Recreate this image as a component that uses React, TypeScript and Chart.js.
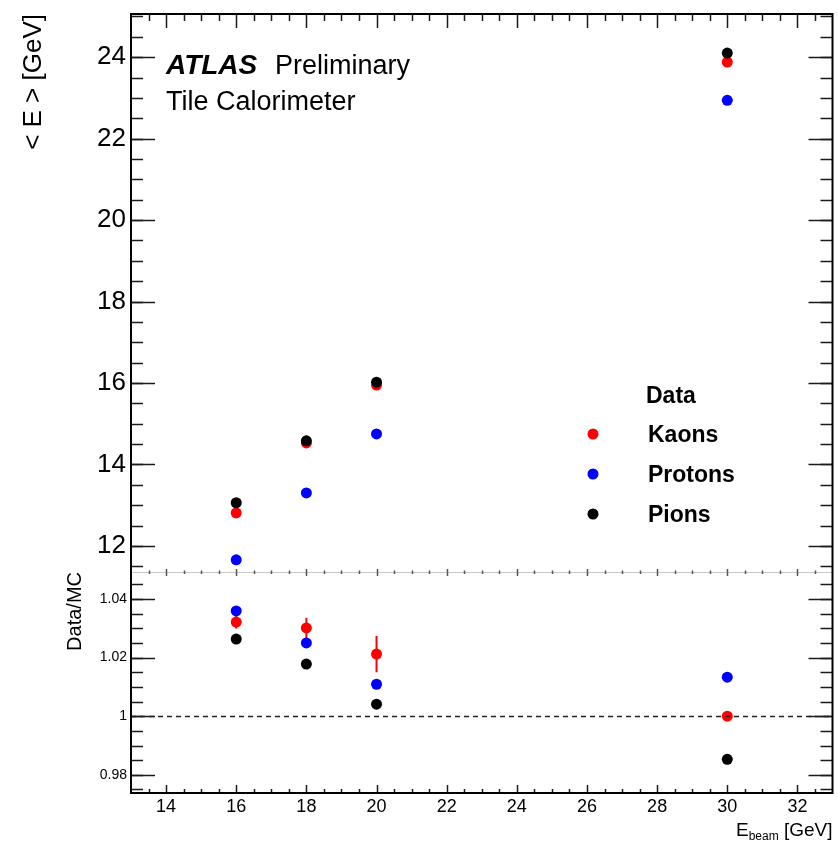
import React, { useEffect, useRef } from 'react';
import { Chart, registerables } from 'chart.js';

Chart.register(...registerables);

// ---------- data ----------
const BEAM_ENERGIES = [16, 18, 20, 30];

const KAONS_E = [12.81, 14.53, 15.95, 23.88];
const PROTONS_E = [11.66, 13.3, 14.75, 22.94];
const PIONS_E = [13.06, 14.58, 16.02, 24.1];
const KAONS_E_ERR = [0.03, 0.04, 0.05, 0.05];
const PROTONS_E_ERR = [0.02, 0.02, 0.03, 0.03];
const PIONS_E_ERR = [0.02, 0.02, 0.02, 0.03];

const KAONS_RATIO = [1.0321, 1.0301, 1.0212, 1.0];
const PROTONS_RATIO = [1.0359, 1.025, 1.0109, 1.0133];
const PIONS_RATIO = [1.0263, 1.0178, 1.0041, 0.9853];
const KAONS_RATIO_ERR = [0.0022, 0.0035, 0.0062, 0.001];
const PROTONS_RATIO_ERR = [0.001, 0.001, 0.001, 0.001];
const PIONS_RATIO_ERR = [0.001, 0.001, 0.001, 0.001];

const X_TICKS = [14, 16, 18, 20, 22, 24, 26, 28, 30, 32];
const E_TICKS = [12, 14, 16, 18, 20, 22, 24];
const RATIO_TICKS = [0.98, 1, 1.02, 1.04];
const RATIO_TICK_LABELS = ['0.98', '1', '1.02', '1.04'];

const SERIES = [
  { label: 'Kaons', color: '#ff0000' },
  { label: 'Protons', color: '#0000ff' },
  { label: 'Pions', color: '#000000' },
];

const FONT = "'Liberation Sans', Arial, Helvetica, sans-serif";

// ---------- helpers ----------
function points(xs: number[], ys: number[]) {
  return xs.map((x, i) => ({ x, y: ys[i] }));
}

function range(a: number, b: number, step: number) {
  const out: number[] = [];
  for (let k = Math.ceil(a / step - 1e-9); k * step <= b + 1e-9; k++) {
    out.push(+(k * step).toFixed(6));
  }
  return out;
}

function drawHTicks(ctx: CanvasRenderingContext2D, scale: any, values: number[], x0: number, x1: number, len: number) {
  ctx.beginPath();
  for (const v of values) {
    if (v <= scale.min || v >= scale.max) continue;
    const y = Math.round(scale.getPixelForValue(v)) + 0.5;
    ctx.moveTo(x0, y);
    ctx.lineTo(x0 + len, y);
    ctx.moveTo(x1, y);
    ctx.lineTo(x1 - len, y);
  }
  ctx.stroke();
}

const rootPlugin = {
  id: 'rootStyle',
  beforeDatasetsDraw(chart: any) {
    const ctx: CanvasRenderingContext2D = chart.ctx;
    ctx.save();
    chart.data.datasets.forEach((ds: any, i: number) => {
      const meta = chart.getDatasetMeta(i);
      const ys = chart.scales[ds.yAxisID];
      ctx.strokeStyle = ds.backgroundColor;
      ctx.lineWidth = 2;
      meta.data.forEach((el: any, j: number) => {
        const v = ds.data[j].y;
        const e = ds.errors[j];
        ctx.beginPath();
        ctx.moveTo(el.x, ys.getPixelForValue(v - e));
        ctx.lineTo(el.x, ys.getPixelForValue(v + e));
        ctx.stroke();
      });
    });
    ctx.restore();
  },
  afterDraw(chart: any) {
    const ctx: CanvasRenderingContext2D = chart.ctx;
    const ca = chart.chartArea;
    const xs = chart.scales.x;
    const yt = chart.scales.y;
    const yb = chart.scales.y2;
    const split = Math.round(yt.bottom);
    ctx.save();

    // panel separation line
    ctx.strokeStyle = '#c8c8c8';
    ctx.lineWidth = 1;
    ctx.beginPath();
    ctx.moveTo(ca.left, split + 0.5);
    ctx.lineTo(ca.right, split + 0.5);
    ctx.stroke();

    // y ticks (inside, mirrored)
    ctx.strokeStyle = '#1a1a1a';
    ctx.lineWidth = 1.5;
    drawHTicks(ctx, yt, range(yt.min, yt.max, 0.5), ca.left, ca.right, 12);
    drawHTicks(ctx, yt, E_TICKS, ca.left, ca.right, 24);
    drawHTicks(ctx, yb, range(yb.min, yb.max, 0.005), ca.left, ca.right, 12);
    drawHTicks(ctx, yb, RATIO_TICKS, ca.left, ca.right, 24);

    // x ticks: top frame, bottom frame, panel split
    const minors = range(xs.min, xs.max, 0.5).filter((v) => v > xs.min && v < xs.max);
    ctx.beginPath();
    for (const v of minors) {
      const major = X_TICKS.includes(v);
      const px = Math.round(xs.getPixelForValue(v)) + 0.5;
      ctx.moveTo(px, ca.top);
      ctx.lineTo(px, ca.top + (major ? 14 : 7));
      ctx.moveTo(px, ca.bottom);
      ctx.lineTo(px, ca.bottom - (major ? 8 : 4));
    }
    ctx.stroke();
    ctx.strokeStyle = '#555';
    ctx.lineWidth = 1.5;
    ctx.beginPath();
    for (const v of minors) {
      const major = X_TICKS.includes(v);
      const px = Math.round(xs.getPixelForValue(v)) + 0.5;
      ctx.moveTo(px, split - (major ? 3 : 1.5));
      ctx.lineTo(px, split + (major ? 4 : 2));
    }
    ctx.stroke();

    // dashed reference line at ratio = 1
    ctx.strokeStyle = '#222';
    ctx.lineWidth = 1.3;
    ctx.setLineDash([5, 4]);
    const y1 = Math.round(yb.getPixelForValue(1)) + 0.5;
    ctx.beginPath();
    ctx.moveTo(ca.left, y1);
    ctx.lineTo(ca.right, y1);
    ctx.stroke();
    ctx.setLineDash([]);

    // frame
    ctx.strokeStyle = '#000';
    ctx.lineWidth = 2;
    ctx.strokeRect(ca.left, ca.top, ca.right - ca.left, ca.bottom - ca.top);

    // ATLAS label
    ctx.fillStyle = '#000';
    ctx.textBaseline = 'alphabetic';
    ctx.textAlign = 'left';
    ctx.font = `italic bold 28px ${FONT}`;
    ctx.fillText('ATLAS', ca.left + 35, ca.top + 60);
    ctx.font = `27px ${FONT}`;
    ctx.fillText('Preliminary', ca.left + 144, ca.top + 60);
    ctx.fillText('Tile Calorimeter', ca.left + 35, ca.top + 96);

    // legend
    ctx.font = `bold 23px ${FONT}`;
    ctx.fillText('Data', 646, 403);
    SERIES.forEach((s, i) => {
      const cy = 434 + i * 40;
      ctx.fillStyle = s.color;
      ctx.beginPath();
      ctx.arc(593, cy, 5.5, 0, Math.PI * 2);
      ctx.fill();
      ctx.fillStyle = '#000';
      ctx.fillText(s.label, 648, cy + 8);
    });

    // x-axis title with subscript
    const base = 836;
    ctx.font = `19px ${FONT}`;
    const wE = ctx.measureText('E').width;
    const wG = ctx.measureText(' [GeV]').width;
    ctx.font = `12px ${FONT}`;
    const wb = ctx.measureText('beam').width;
    const tx = ca.right - (wE + wb + wG);
    ctx.font = `19px ${FONT}`;
    ctx.fillText('E', tx, base);
    ctx.font = `12px ${FONT}`;
    ctx.fillText('beam', tx + wE, base + 4);
    ctx.font = `19px ${FONT}`;
    ctx.fillText(' [GeV]', tx + wE + wb, base);

    ctx.restore();
  },
};

function makeDatasets() {
  const top = [KAONS_E, PROTONS_E, PIONS_E];
  const topErr = [KAONS_E_ERR, PROTONS_E_ERR, PIONS_E_ERR];
  const bot = [KAONS_RATIO, PROTONS_RATIO, PIONS_RATIO];
  const botErr = [KAONS_RATIO_ERR, PROTONS_RATIO_ERR, PIONS_RATIO_ERR];
  const orders = [2, 1, 0];
  const out: any[] = [];
  SERIES.forEach((s, i) => {
    out.push({
      label: s.label,
      data: points(BEAM_ENERGIES, top[i]),
      errors: topErr[i],
      yAxisID: 'y',
      backgroundColor: s.color,
      borderColor: s.color,
      pointRadius: 5.5,
      pointBorderWidth: 0,
      showLine: false,
      order: orders[i],
    });
  });
  SERIES.forEach((s, i) => {
    out.push({
      label: s.label + ' ratio',
      data: points(BEAM_ENERGIES, bot[i]),
      errors: botErr[i],
      yAxisID: 'y2',
      backgroundColor: s.color,
      borderColor: s.color,
      pointRadius: 5.5,
      pointBorderWidth: 0,
      showLine: false,
      order: orders[i],
    });
  });
  return out;
}

const fitV = (s: any) => {
  s.width = 131;
  s.paddingTop = 0;
  s.paddingBottom = 0;
};

export default function App() {
  const ref = useRef<HTMLCanvasElement>(null);
  useEffect(() => {
    const canvas = ref.current!;
    const chart = new Chart(canvas, {
      type: 'scatter',
      data: { datasets: makeDatasets() },
      plugins: [rootPlugin],
      options: {
        responsive: false,
        animation: false,
        events: [],
        layout: { padding: { top: 14, right: 5, bottom: 0, left: 0 } },
        plugins: {
          legend: { display: false },
          tooltip: { enabled: false },
        },
        scales: {
          x: {
            type: 'linear',
            position: 'bottom',
            min: 13,
            max: 33,
            afterBuildTicks: (s: any) => {
              s.ticks = X_TICKS.map((v) => ({ value: v }));
            },
            afterFit: (s: any) => {
              s.height = 49;
              s.paddingLeft = 0;
              s.paddingRight = 0;
            },
            grid: { display: false, drawTicks: false },
            border: { display: false },
            ticks: {
              font: { size: 18, family: FONT },
              color: '#000',
              padding: 3,
              maxRotation: 0,
              autoSkip: false,
            },
          },
          y: {
            type: 'linear',
            position: 'left',
            stack: 'panels',
            stackWeight: 558,
            weight: 2,
            min: 11.36,
            max: 25.06,
            afterBuildTicks: (s: any) => {
              s.ticks = E_TICKS.map((v) => ({ value: v }));
            },
            afterFit: fitV,
            grid: { display: false, drawTicks: false },
            border: { display: false },
            ticks: {
              font: { size: 26, family: FONT },
              color: '#000',
              padding: 5,
              autoSkip: false,
            },
            title: {
              display: true,
              text: '< E > [GeV]',
              align: 'end',
              color: '#000',
              font: { size: 26, family: FONT },
              padding: { top: 18, bottom: 0 },
            },
          },
          y2: {
            type: 'linear',
            position: 'left',
            stack: 'panels',
            stackWeight: 221,
            weight: 1,
            min: 0.9738,
            max: 1.0492,
            afterBuildTicks: (s: any) => {
              s.ticks = RATIO_TICKS.map((v) => ({ value: v }));
            },
            afterFit: fitV,
            grid: { display: false, drawTicks: false },
            border: { display: false },
            ticks: {
              font: { size: 14, family: FONT },
              color: '#000',
              padding: 4,
              autoSkip: false,
              callback: (v: any) => {
                const i = RATIO_TICKS.findIndex((t) => Math.abs(t - v) < 1e-6);
                return i >= 0 ? RATIO_TICK_LABELS[i] : '';
              },
            },
            title: {
              display: true,
              text: 'Data/MC',
              align: 'end',
              color: '#000',
              font: { size: 20, family: FONT },
              padding: { top: 63, bottom: 0 },
            },
          },
        },
      } as any,
    });
    return () => chart.destroy();
  }, []);
  return (
    <div style={{ position: 'fixed', left: 0, top: 0, width: 838, height: 842, background: '#fff' }}>
      <canvas ref={ref} width={838} height={842} style={{ display: 'block', width: 838, height: 842 }} />
    </div>
  );
}
